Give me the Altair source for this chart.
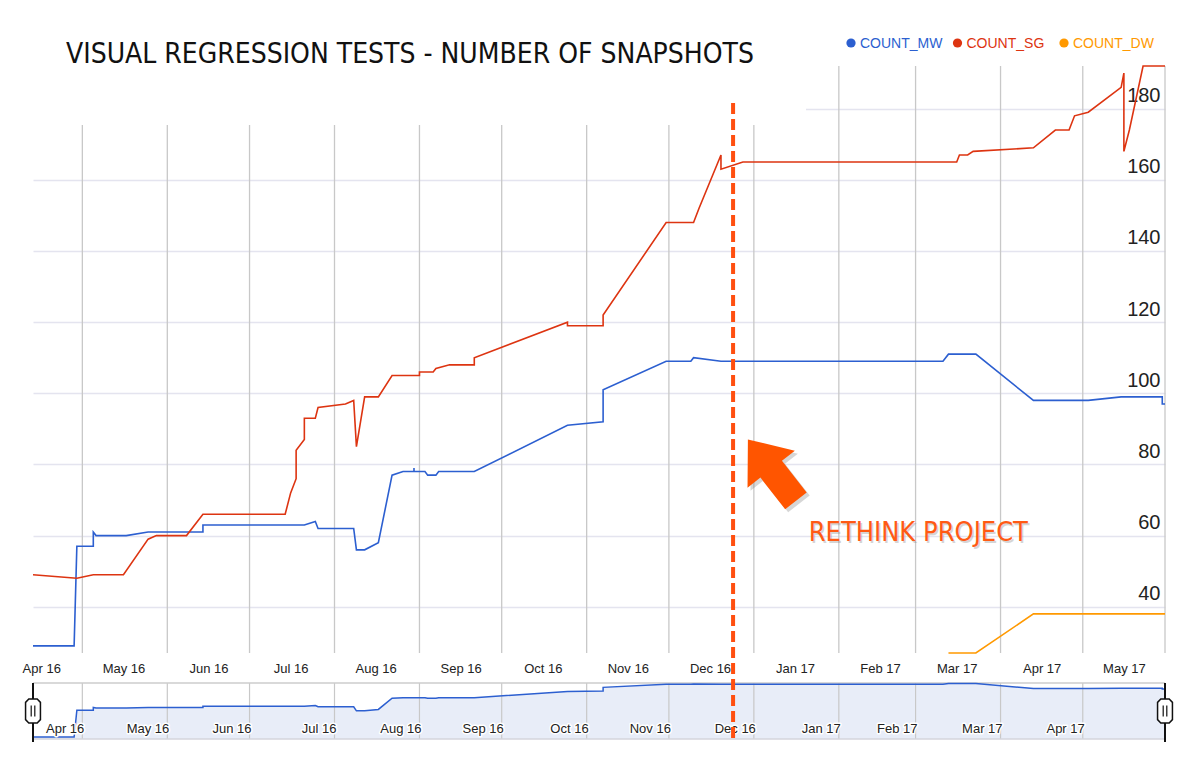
import altair as alt
import pandas as pd

# ---------------- data ----------------
TITLE = "VISUAL REGRESSION TESTS - NUMBER OF SNAPSHOTS"
ANNOTATION = "RETHINK PROJECT"

series_names = ["COUNT_MW", "COUNT_SG", "COUNT_DW"]
series_colors = ["#2c5fd0", "#dd3411", "#ff9900"]

mw_dates = ["2016-04-13", "2016-04-28", "2016-04-29", "2016-05-05", "2016-05-05", "2016-05-06",
            "2016-05-17", "2016-05-25", "2016-06-14", "2016-06-14", "2016-07-21", "2016-07-25",
            "2016-07-26", "2016-08-08", "2016-08-09", "2016-08-12", "2016-08-17", "2016-08-22",
            "2016-08-26", "2016-08-30", "2016-08-30", "2016-08-30", "2016-09-03", "2016-09-04",
            "2016-09-07", "2016-09-08", "2016-09-21", "2016-10-25", "2016-11-07", "2016-11-07",
            "2016-11-30", "2016-12-09", "2016-12-10", "2016-12-20", "2017-03-11", "2017-03-13",
            "2017-03-23", "2017-04-13", "2017-05-03", "2017-05-15", "2017-05-30", "2017-05-30",
            "2017-05-31"]
mw_values = [29, 29, 57, 57, 61, 60,
             60, 61, 61, 63, 63, 64,
             62, 62, 56, 56, 58, 77,
             78, 78, 79, 78, 78, 77,
             77, 78, 78, 91, 92, 101,
             109, 109, 110, 109, 109, 111,
             111, 98, 98, 99, 99, 97,
             97]

sg_dates = ["2016-04-13", "2016-04-29", "2016-05-05", "2016-05-16", "2016-05-25", "2016-05-28",
            "2016-06-08", "2016-06-14", "2016-07-14", "2016-07-16", "2016-07-18", "2016-07-18",
            "2016-07-21", "2016-07-21", "2016-07-25", "2016-07-26", "2016-08-05", "2016-08-08",
            "2016-08-09", "2016-08-12", "2016-08-17", "2016-08-22", "2016-09-01", "2016-09-01",
            "2016-09-06", "2016-09-07", "2016-09-12", "2016-09-21", "2016-09-21", "2016-10-25",
            "2016-10-25", "2016-11-07", "2016-11-07", "2016-11-30", "2016-12-10", "2016-12-12",
            "2016-12-20", "2016-12-20", "2016-12-28", "2017-03-16", "2017-03-17", "2017-03-20",
            "2017-03-22", "2017-04-13", "2017-04-21", "2017-04-26", "2017-04-28", "2017-05-03",
            "2017-05-15", "2017-05-16", "2017-05-16", "2017-05-18", "2017-05-23", "2017-05-31"]
sg_values = [49, 48, 49, 49, 59, 60,
             60, 66, 66, 72, 76, 84,
             87, 93, 93, 96, 97, 98,
             85, 99, 99, 105, 105, 106,
             106, 107, 108, 108, 110, 120,
             119, 119, 122, 148, 148, 152,
             167, 163, 165, 165, 167, 167,
             168, 169, 174, 174, 178, 179,
             186, 190, 168, 174, 192, 192]

dw_dates = ["2017-03-13", "2017-03-23", "2017-04-13", "2017-05-31"]
dw_values = [27, 27, 38, 38]

month_starts = ["2016-05-01", "2016-06-01", "2016-07-01", "2016-08-01", "2016-09-01",
                "2016-10-01", "2016-11-01", "2016-12-01", "2017-01-01", "2017-02-01",
                "2017-03-01", "2017-04-01", "2017-05-01"]
axis_label_dates = ["2016-04-16", "2016-05-16", "2016-06-16", "2016-07-16", "2016-08-16",
                    "2016-09-16", "2016-10-16", "2016-11-16", "2016-12-16", "2017-01-16",
                    "2017-02-16", "2017-03-16", "2017-04-16", "2017-05-16"]
nav_labels = ["Apr 16", "May 16", "Jun 16", "Jul 16", "Aug 16", "Sep 16", "Oct 16",
              "Nov 16", "Dec 16", "Jan 17", "Feb 17", "Mar 17", "Apr 17"]
y_ticks = [40, 60, 80, 100, 120, 140, 160, 180]

x_start, x_end = "2016-04-13", "2017-05-31"
y_min, y_max = 27, 192
nav_min, nav_max = 27.6, 112.7

rethink_date = ["2016-12-24T10:00:00Z"]
arrow_date = ["2017-01-07T14:00:00Z"]
arrow_value = [78.4]
text_date = ["2017-03-02T00:00:00Z"]
text_value = [58.4]

# ---------------- styling ----------------
W, H = 1132, 587
LABEL_FONT = "Liberation Sans"
HAND_FONT = "'DejaVu Sans Condensed', 'Liberation Sans Narrow', 'Liberation Sans', sans-serif"
NAV_TOP, NAV_BOTTOM = 617, 673


def dt(s):
    y, m, d = (int(p) for p in s[:10].split("-"))
    return alt.DateTime(year=y, month=m, date=d, utc=True)


main_df = pd.concat([
    pd.DataFrame({"date": mw_dates, "value": mw_values, "series": series_names[0]}),
    pd.DataFrame({"date": sg_dates, "value": sg_values, "series": series_names[1]}),
    pd.DataFrame({"date": dw_dates, "value": dw_values, "series": series_names[2]}),
], ignore_index=True)
main_df["i"] = range(len(main_df))

nav_df = pd.DataFrame({"date": mw_dates, "value": mw_values})
nav_df["i"] = range(len(nav_df))

grid_df = pd.DataFrame({"date": month_starts + [x_end]})
navgrid_df = pd.DataFrame({"date": month_starts})
navlab_df = pd.DataFrame({"date": month_starts, "label": nav_labels})
handle_df = pd.DataFrame({"date": [x_start, x_end]})
legend_df = pd.DataFrame({"series": series_names})
one = pd.DataFrame({"k": [0]})

x_scale = alt.Scale(type="utc", domain=[dt(x_start), dt(x_end)], nice=False)
y_scale = alt.Scale(domain=[y_min, y_max], nice=False, zero=False)
color_scale = alt.Scale(domain=series_names, range=series_colors)

main_x_axis = alt.Axis(values=[dt(s) for s in axis_label_dates], format="%b %y", grid=False,
                       domain=False, ticks=False, tickSize=0, labelPadding=9,
                       labelFontSize=13, labelColor="#222222", labelFont=LABEL_FONT,
                       labelBaseline="top", labelFlush=False, labelOverlap=False, title=None)
main_y_axis = alt.Axis(orient="right", values=y_ticks, grid=True, gridColor="#e4e4ef",
                       gridWidth=1.5, domain=False, ticks=False, tickSize=0,
                       labelAlign="right", labelPadding=-5, labelBaseline="alphabetic",
                       labelOffset=-7, labelFontSize=20, labelColor="#222222",
                       labelFont=LABEL_FONT, title=None)

X_main = alt.X("date:T", scale=x_scale, axis=main_x_axis)

# ---------------- main panel ----------------
vgrid = alt.Chart(grid_df).mark_rule(color="#c8c8c8", strokeWidth=1.3).encode(x=X_main)
lines = alt.Chart(main_df).mark_line(strokeWidth=1.6).encode(
    x=X_main,
    y=alt.Y("value:Q", scale=y_scale, axis=main_y_axis),
    color=alt.Color("series:N", scale=color_scale, legend=None),
    order=alt.Order("i:Q"),
)
main_group = alt.layer(vgrid, lines)

# white box behind the title (covers grid at top-left)
box = alt.Chart(one).mark_rect(color="white").encode(
    x=alt.value(-25), x2=alt.value(773), y=alt.value(-66), y2=alt.value(59))
title = alt.Chart(one).mark_text(text=TITLE, font=HAND_FONT, fontSize=28, color="#111111",
                                 align="left", baseline="alphabetic").encode(
    x=alt.value(33), y=alt.value(-3))

# ---------------- legend ----------------
leg_x = alt.X("series:N", scale=alt.Scale(type="point", domain=series_names,
                                          range=[818, 1031], padding=0), axis=None)
leg_color = alt.Color("series:N", scale=color_scale, legend=None)
leg_dots = alt.Chart(legend_df).mark_circle(size=85, opacity=1).encode(
    x=leg_x, y=alt.value(-23), color=leg_color)
leg_text = alt.Chart(legend_df).mark_text(align="left", baseline="middle", dx=9, dy=1,
                                          fontSize=14, font=LABEL_FONT).encode(
    x=leg_x, y=alt.value(-23), color=leg_color, text="series:N")
legend_group = alt.layer(leg_dots, leg_text)

# ---------------- navigator (log-scaled overview of COUNT_MW) ----------------
X_nav = alt.X("date:T", scale=x_scale, axis=None)
nav_y_scale = alt.Scale(domain=[0, 1], range=[NAV_BOTTOM, NAV_TOP], nice=False, zero=False)
Y_nav = alt.Y("lv:Q", scale=nav_y_scale, axis=None, stack=None)
log_expr = f"(log(datum.value) - log({nav_min})) / (log({nav_max}) - log({nav_min}))"

nav_base = alt.Chart(nav_df).transform_calculate(lv=log_expr)
nav_area = nav_base.mark_area(color="#e8edf8", opacity=1, line=False).encode(
    x=X_nav, y=Y_nav, y2=alt.value(NAV_BOTTOM))
nav_grid = alt.Chart(navgrid_df).mark_rule(color="#c8c8c8", strokeWidth=1.2).encode(
    x=X_nav, y=alt.value(NAV_TOP), y2=alt.value(NAV_BOTTOM))
nav_top = alt.Chart(one).mark_rule(color="#cccccc", strokeWidth=1.5).encode(
    x=alt.value(0), x2=alt.value(W), y=alt.value(NAV_TOP))
nav_bot = alt.Chart(one).mark_rule(color="#d4d4dc", strokeWidth=1.5).encode(
    x=alt.value(0), x2=alt.value(W), y=alt.value(NAV_BOTTOM))
nav_line = nav_base.mark_line(color=series_colors[0], strokeWidth=1.5).encode(
    x=X_nav, y=Y_nav, order=alt.Order("i:Q"))
nav_halo = alt.Chart(navlab_df).mark_text(align="right", baseline="middle", dx=2, fontSize=13,
                                          font=LABEL_FONT, fill="white", stroke="white",
                                          strokeWidth=3, strokeJoin="round").encode(
    x=X_nav, y=alt.value(663), text="label:N")
nav_text = alt.Chart(navlab_df).mark_text(align="right", baseline="middle", dx=2, fontSize=13,
                                          font=LABEL_FONT, color="#222222").encode(
    x=X_nav, y=alt.value(663), text="label:N")
handle_line = alt.Chart(handle_df).mark_rule(color="#111111", strokeWidth=2).encode(
    x=X_nav, y=alt.value(NAV_TOP), y2=alt.value(676))
OCT = "M-0.35,-1 L0.35,-1 L0.62,-0.72 L0.62,0.72 L0.35,1 L-0.35,1 L-0.62,0.72 L-0.62,-0.72 Z"
BARS = "M-0.15,-0.45 L-0.15,0.45 M0.15,-0.45 L0.15,0.45"
handle_body = alt.Chart(handle_df).mark_point(shape=OCT, size=576, filled=True, fill="white",
                                              stroke="#111111", strokeWidth=1.5,
                                              opacity=1).encode(
    x=X_nav, y=alt.value(645))
handle_bars = alt.Chart(handle_df).mark_point(shape=BARS, size=576, filled=False,
                                              stroke="#111111", strokeWidth=1.2,
                                              opacity=1).encode(
    x=X_nav, y=alt.value(645))
nav_group = alt.layer(nav_area, nav_grid, nav_top, nav_bot, nav_line, nav_halo, nav_text,
                      handle_line, handle_body, handle_bars)

# ---------------- annotations ----------------
X_ann = alt.X("date:T", scale=x_scale, axis=None)
Y_ann = alt.Y("value:Q", scale=y_scale, axis=None)
dash = alt.Chart(pd.DataFrame({"date": rethink_date})).mark_rule(
    color="#ff4f10", strokeWidth=4, strokeDash=[11, 5]).encode(
    x=X_ann, y=alt.value(37), y2=alt.value(676))
ARROW = "M0,-1 L0.77,-0.03 L0.35,-0.03 L0.35,1 L-0.35,1 L-0.35,-0.03 L-0.77,-0.03 Z"
arrow_df = pd.DataFrame({"date": arrow_date, "value": arrow_value})
arrow_shadow = alt.Chart(arrow_df).mark_point(shape=ARROW, size=6084, angle=322, filled=True,
                                              color="#777777", opacity=0.3, xOffset=3,
                                              yOffset=3, strokeWidth=0).encode(
    x=X_ann, y=Y_ann)
arrow = alt.Chart(arrow_df).mark_point(shape=ARROW, size=6084, angle=322, filled=True,
                                       color="#ff5500", opacity=1, strokeWidth=0).encode(
    x=X_ann, y=Y_ann)
text_df = pd.DataFrame({"date": text_date, "value": text_value})
ann_shadow = alt.Chart(text_df).mark_text(text=ANNOTATION, font=HAND_FONT, fontSize=27,
                                          color="#888888", opacity=0.35, align="center",
                                          baseline="alphabetic", dx=1.5, dy=1.5).encode(
    x=X_ann, y=Y_ann)
ann_text = alt.Chart(text_df).mark_text(text=ANNOTATION, font=HAND_FONT, fontSize=27,
                                        color="#ff5a14", align="center",
                                        baseline="alphabetic").encode(
    x=X_ann, y=Y_ann)
ann_group = alt.layer(dash, arrow_shadow, arrow, ann_shadow, ann_text)

chart = alt.layer(main_group, box, title, legend_group, nav_group, ann_group).resolve_scale(
    x="independent", y="independent"
).properties(
    width=W, height=H,
    padding={"left": 25, "top": 58, "right": 27, "bottom": 115},
    autosize=alt.AutoSizeParams(type="none"),
    background="white",
).configure_view(stroke=None)

chart.save("out.html", embed_options={"renderer": "svg", "actions": False})
